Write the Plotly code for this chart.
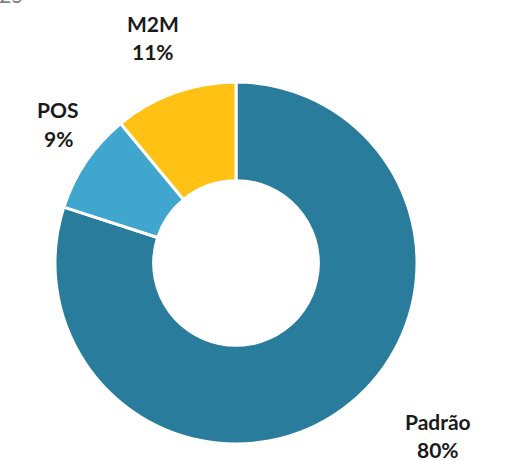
import plotly.graph_objects as go

labels = ["Padrão", "POS", "M2M"]
values = [80, 9, 11]
colors = ["#2A7C9C", "#41A6CD", "#FFC214"]

# label anchor positions in pixels (x, y of first line center)
label_pos = {"Padrão": (438, 421), "POS": (58, 110), "M2M": (153, 23)}

W, H = 512, 460
fig = go.Figure(go.Pie(
    labels=labels, values=values, hole=0.455, sort=False, direction="clockwise",
    rotation=0, marker=dict(colors=colors, line=dict(color="white", width=3)),
    textinfo="none", hoverinfo="label+percent", showlegend=False,
    domain=dict(x=[55 / W, 417 / W], y=[(H - 444) / H, (H - 82) / H]),
))

total = sum(values)
ann = []
for lab, v in zip(labels, values):
    px, py = label_pos[lab]
    for i, t in enumerate([lab, f"{round(100 * v / total)}%"]):
        ann.append(dict(text=f"<b>{t}</b>", x=px / W, y=1 - (py + 28 * i) / H,
                        xref="paper", yref="paper", xanchor="center", yanchor="middle",
                        showarrow=False, font=dict(family="Lato", size=21, color="#1a1a1a")))
ann.append(dict(text="25", x=-3 / W, y=1, xref="paper", yref="paper", xanchor="left",
                yanchor="bottom", yshift=-9, showarrow=False,
                font=dict(family="Lato", size=21, color="#7f7f7f")))

fig.update_layout(width=W, height=H, margin=dict(l=0, r=0, t=0, b=0),
                  paper_bgcolor="white", plot_bgcolor="white", annotations=ann)
fig.write_html("out.html", config={"displayModeBar": False},
               post_script="document.body.style.margin='0';")
